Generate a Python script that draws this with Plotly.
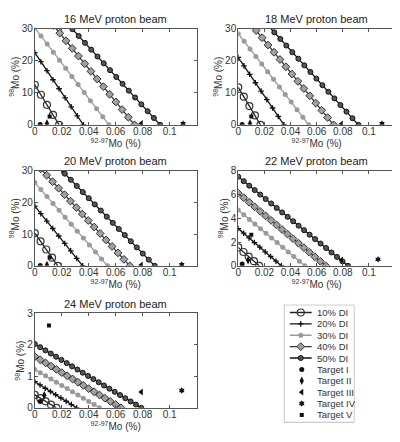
import numpy as np
import plotly.graph_objects as go

beam_energies = ['16', '18', '20', '22', '24']
di_labels = ['10% DI', '20% DI', '30% DI', '40% DI', '50% DI']
target_labels = ['Target I', 'Target II', 'Target III', 'Target IV', 'Target V']

# DI lines: 92-97Mo intercept (98Mo = 0) and 98Mo intercept (92-97Mo = 0)
mo9297_16 = [0.018, 0.036, 0.055, 0.074, 0.093]
mo98_16 = [12.5, 22.5, 30.2, 38.1, 42.6]
mo9297_18 = [0.017, 0.035, 0.054, 0.073, 0.092]
mo98_18 = [11.7, 21.0, 28.4, 36.2, 41.2]
mo9297_20 = [0.017, 0.0355, 0.054, 0.0705, 0.089]
mo98_20 = [10.3, 18.8, 26.2, 32.6, 38.7]
mo9297_22 = [0.016, 0.033, 0.051, 0.067, 0.084]
mo98_22 = [1.55, 3.13, 4.68, 6.1, 7.48]
mo9297_24 = [0.016, 0.031, 0.048, 0.064, 0.079]
mo98_24 = [0.41, 0.83, 1.22, 1.63, 2.03]

# measured targets (I..V)
tx_16 = [0.004, 0.009, 0.079, 0.110, 0.011]
ty_16 = [0.1, 0.4, 0.4, 0.4, 2.6]
tx_18 = [0.003, 0.009, 0.079, 0.110, 0.010]
ty_18 = [0.1, 0.4, 0.3, 0.4, 2.6]
tx_20 = [0.004, 0.009, 0.079, 0.109, 0.011]
ty_20 = [0.1, 0.3, 0.3, 0.4, 2.65]
tx_22 = [0.003, 0.0075, 0.079, 0.107, 0.010]
ty_22 = [0.16, 0.46, 0.5, 0.55, 2.6]
tx_24 = [0.004, 0.007, 0.079, 0.109, 0.0105]
ty_24 = [0.2, 0.4, 0.5, 0.55, 2.62]

y_max = [30, 30, 30, 8, 3]
y_ticks = [[0, 10, 20, 30], [0, 10, 20, 30], [0, 10, 20, 30], [0, 2, 4, 6, 8], [0, 1, 2, 3]]
x_ticks = [0, 0.02, 0.04, 0.06, 0.08, 0.1]
x_ticklabels = ['0', '0.02', '0.04', '0.06', '0.08', '0.1']

panels = [
    (mo9297_16, mo98_16, tx_16, ty_16),
    (mo9297_18, mo98_18, tx_18, ty_18),
    (mo9297_20, mo98_20, tx_20, ty_20),
    (mo9297_22, mo98_22, tx_22, ty_22),
    (mo9297_24, mo98_24, tx_24, ty_24),
]

# the page body has an 8px margin, so the figure is drawn 8px smaller and shifted
PAD = 8
W, H = 400 - PAD, 442 - PAD


def fx(px):
    return (px - PAD) / W


def fy(py):
    return 1 - (py - PAD) / H


# pixel boxes of the plot areas in the window: left, right, top, bottom
boxes = [(32, 195, 23, 122), (237, 395, 23, 122),
         (32, 195, 169, 267), (237, 395, 169, 267),
         (32, 195, 316, 413)]

di_styles = [
    dict(lc='#222222', sym='circle-open', size=7, mc='#333333', ml='#333333', mw=1.2),
    dict(lc='#111111', sym='cross-thin-open', size=4, mc='#111111', ml='#111111', mw=1.3),
    dict(lc='#9a9a9a', sym='circle', size=5, mc='#9a9a9a', ml='#9a9a9a', mw=0),
    dict(lc='#333333', sym='diamond', size=6, mc='#a0a0a0', ml='#333333', mw=1),
    dict(lc='#111111', sym='circle', size=5, mc='#555555', ml='#111111', mw=1),
]
target_styles = [
    dict(sym='circle', size=5),
    dict(sym='diamond-tall', size=6),
    dict(sym='triangle-left', size=6),
    dict(sym='hexagram', size=5),
    dict(sym='square', size=4),
]

fig = go.Figure()
font = 'Liberation Sans, Arial, sans-serif'

for p, (xi, yi, tx, ty) in enumerate(panels):
    ax = '' if p == 0 else str(p + 1)
    xref, yref = 'x' + ax, 'y' + ax
    for k in range(5):
        st = di_styles[k]
        n = 4 * (k + 1)
        xs = np.linspace(0, xi[k], n + 1)
        ys = yi[k] * (1 - xs / xi[k])
        fig.add_trace(go.Scatter(
            x=xs, y=ys, mode='lines+markers', xaxis=xref, yaxis=yref,
            line=dict(color=st['lc'], width=1.3),
            marker=dict(symbol=st['sym'], size=st['size'], color=st['mc'],
                        line=dict(color=st['ml'], width=st['mw'])),
            showlegend=False, hoverinfo='skip'))
    for k in range(5):
        st = target_styles[k]
        fig.add_trace(go.Scatter(
            x=[tx[k]], y=[ty[k]], mode='markers', xaxis=xref, yaxis=yref,
            marker=dict(symbol=st['sym'], size=st['size'], color='#111111'),
            showlegend=False, name=target_labels[k]))

    l, r, t, b = boxes[p]
    axis_common = dict(showline=True, linecolor='#555555', linewidth=1, mirror='allticks',
                       ticks='inside', ticklen=3, tickcolor='#555555', showgrid=False,
                       zeroline=False, tickfont=dict(size=10, color='#333333', family=font))
    fig.layout['xaxis' + ax] = dict(
        domain=[fx(l), fx(r)], anchor=yref, range=[0, 0.12],
        tickvals=x_ticks, ticktext=x_ticklabels, ticklabelstandoff=-3,
        title=dict(text='<sup>92-97</sup>Mo (%)', font=dict(size=10, color='#333333', family=font),
                   standoff=0),
        **axis_common)
    fig.layout['yaxis' + ax] = dict(
        domain=[fy(b), fy(t)], anchor=xref, range=[0, y_max[p]],
        tickvals=y_ticks[p], ticklabelstandoff=-1,
        title=dict(text='<sup>98</sup>Mo (%)', font=dict(size=10, color='#333333', family=font),
                   standoff=0),
        **axis_common)
    fig.add_annotation(x=fx((l + r) / 2), y=fy(t - 10), xref='paper', yref='paper',
                       xanchor='center', yanchor='middle',
                       text=beam_energies[p] + ' MeV proton beam', showarrow=False,
                       font=dict(size=11, color='#222222', family=font))

# hand-built legend in window pixel coordinates
fig.layout['xaxis6'] = dict(domain=[fx(283), fx(354)], range=[283, 354], visible=False,
                            anchor='y6', fixedrange=True)
fig.layout['yaxis6'] = dict(domain=[fy(428), fy(307)], range=[428, 307], visible=False,
                            anchor='x6', fixedrange=True)
fig.add_shape(type='rect', xref='x6', yref='y6', x0=283, x1=354, y0=307, y1=428,
              line=dict(color='#888888', width=1))
row_y = [315 + 11.7 * i for i in range(10)]
for k in range(5):
    st = di_styles[k]
    fig.add_trace(go.Scatter(x=[289, 311], y=[row_y[k]] * 2, mode='lines', xaxis='x6', yaxis='y6',
                             line=dict(color=st['lc'], width=1.3), showlegend=False, hoverinfo='skip'))
    fig.add_trace(go.Scatter(x=[300], y=[row_y[k]], mode='markers', xaxis='x6', yaxis='y6',
                             marker=dict(symbol=st['sym'], size=st['size'], color=st['mc'],
                                         line=dict(color=st['ml'], width=st['mw'])),
                             showlegend=False, hoverinfo='skip'))
for k in range(5):
    st = target_styles[k]
    fig.add_trace(go.Scatter(x=[301], y=[row_y[k + 5]], mode='markers', xaxis='x6', yaxis='y6',
                             marker=dict(symbol=st['sym'], size=st['size'], color='#111111'),
                             showlegend=False, hoverinfo='skip'))
for i, lab in enumerate(di_labels + target_labels):
    fig.add_annotation(x=314, y=row_y[i], xref='x6', yref='y6', text=lab, showarrow=False,
                       xanchor='left', font=dict(size=9.5, color='#333333', family=font))

fig.update_layout(width=W, height=H, margin=dict(l=0, r=0, t=0, b=0),
                  paper_bgcolor='white', plot_bgcolor='white', showlegend=False)

fig.write_html('out.html')
